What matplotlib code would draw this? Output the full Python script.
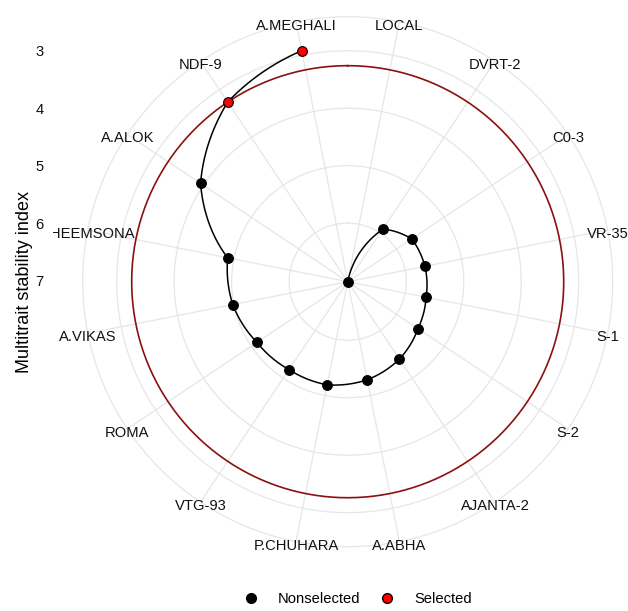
import numpy as np
import matplotlib.pyplot as plt
from matplotlib.lines import Line2D
from matplotlib.transforms import Bbox, TransformedBbox, offset_copy

plt.rcParams['font.family'] = ['Liberation Sans', 'DejaVu Sans']

# genotypes in plotting order (clockwise from top), MTSI values
genotypes = ['LOCAL', 'DVRT-2', 'C0-3', 'VR-35', 'S-1', 'S-2', 'AJANTA-2', 'A.ABHA',
             'P.CHUHARA', 'VTG-93', 'ROMA', 'A.VIKAS', 'BHEEMSONA', 'A.ALOK', 'NDF-9',
             'A.MEGHALI']
mtsi = [7.02, 5.92, 5.68, 5.65, 5.63, 5.55, 5.40, 5.28,
        5.19, 5.18, 5.12, 4.98, 4.89, 3.94, 3.26, 2.92]
selected = ['NDF-9', 'A.MEGHALI']
r_ticks = [3, 4, 5, 6, 7]

W, H = 628, 611
fig = plt.figure(figsize=(W / 100, H / 100), dpi=100)

cx, cy, rad = 347.7, 281.7, 265.0
rect = [(cx - rad) / W, (H - cy - rad) / H, 2 * rad / W, 2 * rad / H]
ax = fig.add_axes(rect, projection='polar')
ax.set_theta_zero_location('N')
ax.set_theta_direction(-1)

n = len(genotypes)
theta = (np.arange(1, n + 1) - 0.5) / n * 2 * np.pi
vals = np.array(mtsi)
vmax, vmin = vals.max(), vals.min()
r = vmax - vals
rlim = 1.125 * (vmax - vmin)
ax.set_ylim(0, rlim)

grid_col = '#E6E6E6'
ax.set_xticks(theta)
ax.set_xticklabels([])
ax.set_yticks(vmax - np.array(r_ticks, dtype=float))
ax.set_yticklabels([])
ax.grid(True, color=grid_col, linewidth=0.9)
ax.spines['polar'].set_color(grid_col)
ax.spines['polar'].set_linewidth(0.9)
ax.tick_params(length=0)

# cutoff circle at the worst selected genotype
cut = max(v for g, v in zip(genotypes, mtsi) if g in selected)
tt = np.linspace(0, 2 * np.pi, 500)
ax.plot(tt, np.full_like(tt, vmax - cut), color='#8B1010', lw=1.2, zorder=3)

# path between genotypes, interpolated in polar space like coord_polar does
pt, pr = [], []
for i in range(n - 1):
    s = np.linspace(0, 1, 40)
    pt.append(theta[i] + (theta[i + 1] - theta[i]) * s)
    pr.append(r[i] + (r[i + 1] - r[i]) * s)
ax.plot(np.concatenate(pt), np.concatenate(pr), color='black', lw=1.1, zorder=4)

is_sel = np.array([g in selected for g in genotypes])
ax.plot(theta[~is_sel], r[~is_sel], 'o', ms=7, mfc='black', mec='black', mew=0.8, zorder=5)
ax.plot(theta[is_sel], r[is_sel], 'o', ms=7, mfc='#FF0000', mec='black', mew=0.8, zorder=5)

# genotype labels sit on the outer circle and are clipped at the panel's left edge
panel_clip = TransformedBbox(Bbox.from_extents(53 / W, 0, 1, 1), fig.transFigure)
lab_tr = offset_copy(ax.transData, fig=fig, x=0, y=-4, units='dots')
for t, g in zip(theta, genotypes):
    txt = ax.text(t, rlim, g, ha='center', va='center', fontsize=10.6, color='#111111',
                  transform=lab_tr, zorder=6)
    txt.set_clip_path(None)
    txt.set_clip_box(panel_clip)
    txt.set_clip_on(True)

# radial axis shown on the left like ggplot's y axis
ax2 = fig.add_axes(rect, frameon=False)
ax2.patch.set_visible(False)
ax2.set_xlim(-1, 1)
ax2.set_ylim(-rlim, rlim)
ax2.set_xticks([])
ax2.set_yticks(vmax - np.array(r_ticks, dtype=float))
ax2.set_yticklabels([str(v) for v in r_ticks], fontsize=10.6, color='#111111')
ax2.tick_params(axis='y', length=0, pad=28)
ax2.set_ylabel('Multitrait stability index', fontsize=13, labelpad=2)

handles = [Line2D([], [], marker='o', ls='', ms=7, mfc='black', mec='black'),
           Line2D([], [], marker='o', ls='', ms=7, mfc='#FF0000', mec='black')]
fig.legend(handles, ['Nonselected', 'Selected'], loc='center', ncol=2,
           bbox_to_anchor=(354 / W, (H - 599) / H), frameon=False, fontsize=10.6,
           handletextpad=0.8, columnspacing=0.85)

fig.savefig('out.png', dpi=100)
